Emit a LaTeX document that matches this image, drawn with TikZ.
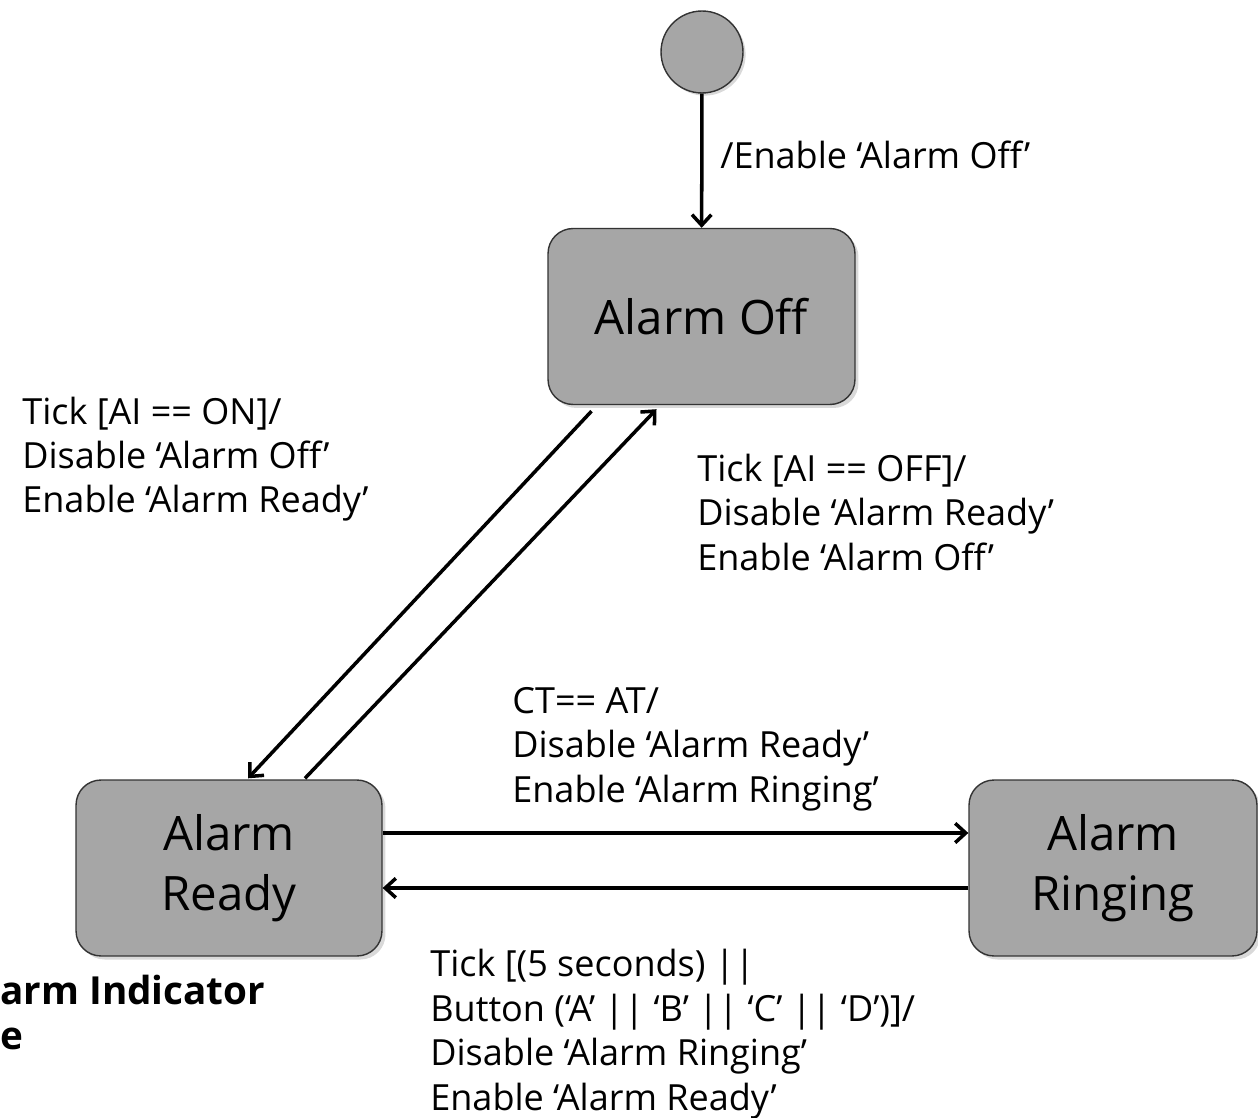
\documentclass[tikz,border=0pt]{standalone}
\usepackage{fontspec}
\setmainfont{Open Sans}
\usetikzlibrary{calc,shapes.geometric,shadows}
\usetikzlibrary{arrows.meta}

\begin{document}
\begin{tikzpicture}[x=0.02cm,y=-0.02cm]

  \tikzstyle{state} = [draw=black!80, fill=black!35, rectangle, rounded corners=0.5cm, minimum height=3.52cm, line width=0.8pt, align=center, font=\fontsize{27}{34}\selectfont, drop shadow={shadow xshift=2pt, shadow yshift=-2pt, opacity=0.3}]
  \tikzstyle{label} = [anchor=base west, inner sep=0pt, align=left, font=\fontsize{20.5}{25.3}\selectfont]
  \tikzstyle{trans} = [-{Straight Barb[length=6pt,width=11pt,line width=2pt]}, color=black!100, line width=2pt]

  \useasboundingbox (0,0) rectangle (1258,1118);

  \node[circle, draw=black!80, fill=black!35, minimum size=1.64cm, line width=0.8pt, drop shadow={shadow xshift=1.5pt, shadow yshift=-1.5pt, opacity=0.3}] (start) at (702,52) {};
  \node[state, minimum width=6.14cm] (off) at (701.5,316.5) {Alarm Off};
  \node[state, minimum width=6.12cm] (ready) at (229,868) {Alarm\\Ready};
  \node[state, minimum width=5.76cm] (ring) at (1113,868) {Alarm\\Ringing};

  \draw[trans] (start) -- (off);
  \draw[trans] ($(off.south)+(-110,6)$) -- ($(ready.north)+(19,-1)$);
  \draw[trans] ($(ready.north)+(76,-1)$) -- ($(off.south)+(-45,4)$);
  \draw[trans] ($(ready.east)+(0,-35)$) -- ($(ring.west)+(0,-35)$);
  \draw[trans] ($(ring.west)+(0,20)$) -- ($(ready.east)+(0,20)$);

  % labels: base is the last line
  \node[label] (lblinit) at (720,169) {/Enable ‘Alarm Off’};
  \node[label] (lblon) at (22,513) {Tick [AI == ON]/\\Disable ‘Alarm Off’\\Enable ‘Alarm Ready’};
  \node[label] (lbloff) at (697,570) {Tick [AI == OFF]/\\Disable ‘Alarm Ready’\\Enable ‘Alarm Off’};
  \node[label] (lblring) at (512,802) {CT== AT/\\Disable ‘Alarm Ready’\\Enable ‘Alarm Ringing’};
  \node[label] (lblready) at (430,1110) {Tick [(5 seconds) ||\\Button (‘A’ || ‘B’ || ‘C’ || ‘D’)]/\\Disable ‘Alarm Ringing’\\Enable ‘Alarm Ready’};
  \node[label, font=\fontsize{22}{25.3}\selectfont\bfseries] (caption) at (0,1049) {arm Indicator\\e};

\end{tikzpicture}
\end{document}
